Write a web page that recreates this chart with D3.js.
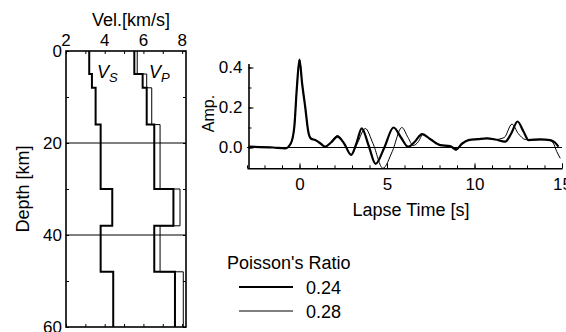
<!DOCTYPE html>
<html>
<head>
<meta charset="utf-8">
<script src="https://cdn.jsdelivr.net/npm/d3@7"></script>
<style>
  body { margin: 0; background: #fff; }
  svg { font-family: "Liberation Sans", Arial, sans-serif; }
  .ax path, .ax line { stroke: #000; }
</style>
</head>
<body>
<svg id="chart" width="566" height="332"></svg>
<script>
// velocity model (layer tops in km, last value is bottom of model)
const depthBounds = [0, 5, 8, 16, 30, 38, 48, 60];
const vsLayers = [3.20, 3.34, 3.53, 3.79, 4.39, 3.79, 4.44];
const vpLayers024 = [5.53, 5.96, 6.17, 6.56, 7.55, 6.56, 7.63];
const vpLayers028 = [5.68, 6.17, 6.43, 6.86, 7.89, 6.86, 8.06];
const velTicks = [2, 4, 6, 8];
const depthTicks = [0, 20, 40, 60];

// waveforms: lapse time [s] and amplitude
const time024 = [-2.9, -1.5, -0.8, -0.5, -0.3, -0.15, 0, 0.15, 0.33, 0.5, 0.65, 0.9, 1.2, 1.47, 1.8, 2.17, 2.55, 2.95, 3.25, 3.56, 3.95, 4.35, 4.85, 5.37, 5.8, 6.2, 6.6, 7.0, 7.5, 8.04, 8.6, 8.95, 9.3, 9.66, 10.2, 10.7, 11.2, 11.75, 12.1, 12.46, 12.8, 13.09, 13.75, 14.33, 14.6, 14.8];
const amp024 = [0.004, 0.0, -0.004, 0.02, 0.1, 0.3, 0.44, 0.32, 0.2, 0.08, 0.045, 0.037, 0.02, 0.004, 0.025, 0.054, 0.02, -0.037, 0.02, 0.096, 0.01, -0.082, 0.0, 0.1, 0.05, 0.004, 0.03, 0.067, 0.04, 0.012, 0.007, -0.009, 0.02, 0.037, 0.042, 0.046, 0.04, 0.029, 0.07, 0.13, 0.08, 0.037, 0.041, 0.037, 0.025, 0.004];
const time028 = [-2.9, -1.5, -0.8, -0.5, -0.3, -0.15, 0, 0.15, 0.33, 0.5, 0.65, 0.9, 1.2, 1.47, 1.8, 2.17, 2.55, 2.95, 3.3, 3.76, 4.2, 4.77, 5.3, 5.85, 6.2, 6.5, 6.8, 7.05, 7.5, 8.04, 8.6, 8.95, 9.3, 9.66, 10.2, 10.7, 11.2, 11.7, 12.14, 12.5, 12.9, 13.3, 14.0, 14.3, 14.5, 14.7, 14.9];
const amp028 = [0.004, 0.0, -0.004, 0.02, 0.1, 0.3, 0.44, 0.32, 0.2, 0.08, 0.045, 0.037, 0.02, 0.004, 0.028, 0.06, 0.02, -0.035, 0.02, 0.095, 0.02, -0.104, -0.02, 0.1, 0.05, 0.01, 0.03, 0.065, 0.04, 0.012, 0.005, -0.014, 0.02, 0.037, 0.042, 0.046, 0.04, 0.05, 0.117, 0.07, 0.04, 0.037, 0.04, 0.035, 0.022, -0.02, -0.054];
const ampTicks = [0.0, 0.2, 0.4];
const timeTicks = [0, 5, 10, 15];

const legendLabels = ['0.24', '0.28'];
const legendWidths = [2.2, 1];

const svg = d3.select('#chart');

// ---------- velocity profile ----------
const x = d3.scaleLinear().domain([2, 8.2]).range([66, 186]);
const y = d3.scaleLinear().domain([0, 60]).range([51, 327]);

function profile(vals) {
  const pts = [];
  vals.forEach((v, i) => {
    pts.push([v, depthBounds[i]]);
    pts.push([v, depthBounds[i + 1]]);
  });
  return pts;
}
const profLine = d3.line().x((d) => x(d[0])).y((d) => y(d[1]));

const left = svg.append('g');

left.selectAll('line.hz')
  .data([20, 40])
  .join('line')
  .attr('x1', x.range()[0]).attr('x2', x.range()[1])
  .attr('y1', (d) => y(d)).attr('y2', (d) => y(d))
  .attr('stroke', '#000').attr('stroke-width', 1.2);

left.append('path').attr('d', profLine(profile(vpLayers028)))
  .attr('fill', 'none').attr('stroke', '#000').attr('stroke-width', 1);
left.append('path').attr('d', profLine(profile(vpLayers024)))
  .attr('fill', 'none').attr('stroke', '#000').attr('stroke-width', 2);
left.append('path').attr('d', profLine(profile(vsLayers)))
  .attr('fill', 'none').attr('stroke', '#000').attr('stroke-width', 2);

// frame with inward ticks
const minorV = d3.range(2, 9, 1);
const minorD = d3.range(0, 61, 10);
left.append('g').attr('class', 'ax')
  .attr('transform', `translate(0,${y(0)})`)
  .call(d3.axisTop(x).tickValues(minorV).tickSize(-3).tickFormat('').tickSizeOuter(0))
  .call((g) => g.select('.domain').remove());
left.append('g').attr('class', 'ax')
  .attr('transform', `translate(0,${y(60)})`)
  .call(d3.axisBottom(x).tickValues(minorV).tickSize(-3).tickFormat('').tickSizeOuter(0))
  .call((g) => g.select('.domain').remove());
left.append('g').attr('class', 'ax')
  .attr('transform', `translate(${x(2)},0)`)
  .call(d3.axisLeft(y).tickValues(minorD).tickSize(-3).tickFormat('').tickSizeOuter(0))
  .call((g) => g.select('.domain').remove());
left.append('g').attr('class', 'ax')
  .attr('transform', `translate(${x(8.2)},0)`)
  .call(d3.axisRight(y).tickValues(minorD).tickSize(-3).tickFormat('').tickSizeOuter(0))
  .call((g) => g.select('.domain').remove());

left.append('rect')
  .attr('x', x(2)).attr('y', y(0))
  .attr('width', x(8.2) - x(2)).attr('height', y(60) - y(0))
  .attr('fill', 'none').attr('stroke', '#000').attr('stroke-width', 1.6);

left.selectAll('text.vt')
  .data(velTicks)
  .join('text')
  .attr('x', (d) => x(d)).attr('y', 46)
  .attr('text-anchor', 'middle').attr('font-size', 17)
  .text((d) => d);
left.selectAll('text.dt')
  .data(depthTicks)
  .join('text')
  .attr('x', 62).attr('y', (d) => y(d) + 6)
  .attr('text-anchor', 'end').attr('font-size', 17)
  .text((d) => d);

left.append('text').attr('x', 131).attr('y', 26)
  .attr('text-anchor', 'middle').attr('font-size', 18)
  .text('Vel.[km/s]');
left.append('text')
  .attr('transform', `translate(29,${y(30)}) rotate(-90)`)
  .attr('text-anchor', 'middle').attr('font-size', 18)
  .text('Depth [km]');

const vsLab = left.append('text').attr('x', 97).attr('y', 78)
  .attr('font-size', 18).attr('font-style', 'italic');
vsLab.append('tspan').text('V');
vsLab.append('tspan').attr('dy', 4).attr('font-size', 13).text('S');
const vpLab = left.append('text').attr('x', 149).attr('y', 78)
  .attr('font-size', 18).attr('font-style', 'italic');
vpLab.append('tspan').text('V');
vpLab.append('tspan').attr('dy', 4).attr('font-size', 13).text('P');

// ---------- waveform ----------
const tx = d3.scaleLinear().domain([-3, 15]).range([247, 562]);
const ay = d3.scaleLinear().domain([-0.104, 0.42]).range([168.3, 63.5]);

const right = svg.append('g');

right.append('line')
  .attr('x1', tx(-3)).attr('x2', tx(15))
  .attr('y1', ay(0)).attr('y2', ay(0))
  .attr('stroke', '#000').attr('stroke-width', 1.2);

const wave = d3.line()
  .x((d) => tx(d[0])).y((d) => ay(d[1]))
  .curve(d3.curveMonotoneX);

right.append('path').attr('d', wave(d3.zip(time028, amp028)))
  .attr('fill', 'none').attr('stroke', '#000').attr('stroke-width', 1);
right.append('path').attr('d', wave(d3.zip(time024, amp024)))
  .attr('fill', 'none').attr('stroke', '#000').attr('stroke-width', 2.2);

right.append('g').attr('class', 'ax')
  .attr('transform', `translate(0,${ay(-0.104)})`)
  .call(d3.axisBottom(tx).tickValues(d3.range(-3, 16, 1)).tickSize(-3).tickFormat('').tickSizeOuter(0))
  .call((g) => g.select('.domain').attr('stroke-width', 1.6));
right.append('g').attr('class', 'ax')
  .attr('transform', `translate(0,${ay(-0.104)})`)
  .call(d3.axisBottom(tx).tickValues(timeTicks).tickSize(-5).tickPadding(10).tickSizeOuter(0))
  .call((g) => g.select('.domain').remove())
  .call((g) => g.selectAll('text').attr('font-size', 17).attr('font-family', null));

right.append('g').attr('class', 'ax')
  .attr('transform', `translate(${tx(-3) + 1.5},0)`)
  .call(d3.axisLeft(ay).tickValues([0, 0.1, 0.2, 0.3, 0.4]).tickSize(-3).tickFormat('').tickSizeOuter(0))
  .call((g) => g.select('.domain').attr('stroke-width', 1.6));
right.append('g').attr('class', 'ax')
  .attr('transform', `translate(${tx(-3) + 1.5},0)`)
  .call(d3.axisLeft(ay).tickValues(ampTicks).tickSize(-5).tickPadding(6).tickFormat(d3.format('.1f')).tickSizeOuter(0))
  .call((g) => g.select('.domain').remove())
  .call((g) => g.selectAll('text').attr('font-size', 17).attr('font-family', null));

right.append('text').attr('x', 411).attr('y', 216)
  .attr('text-anchor', 'middle').attr('font-size', 18)
  .text('Lapse Time [s]');
right.append('text')
  .attr('transform', `translate(214,${ay(0.17)}) rotate(-90)`)
  .attr('text-anchor', 'middle').attr('font-size', 16)
  .text('Amp.');

// ---------- legend ----------
const lg = svg.append('g');
lg.append('text').attr('x', 227).attr('y', 269)
  .attr('font-size', 18).text("Poisson's Ratio");
const items = lg.selectAll('g.item')
  .data(legendLabels)
  .join('g')
  .attr('transform', (d, i) => `translate(0,${287 + i * 24})`);
items.append('line')
  .attr('x1', 239).attr('x2', 293)
  .attr('stroke', '#000').attr('stroke-width', (d, i) => legendWidths[i]);
items.append('text').attr('x', 306).attr('y', 7)
  .attr('font-size', 18).text((d) => d);
</script>
</body>
</html>
